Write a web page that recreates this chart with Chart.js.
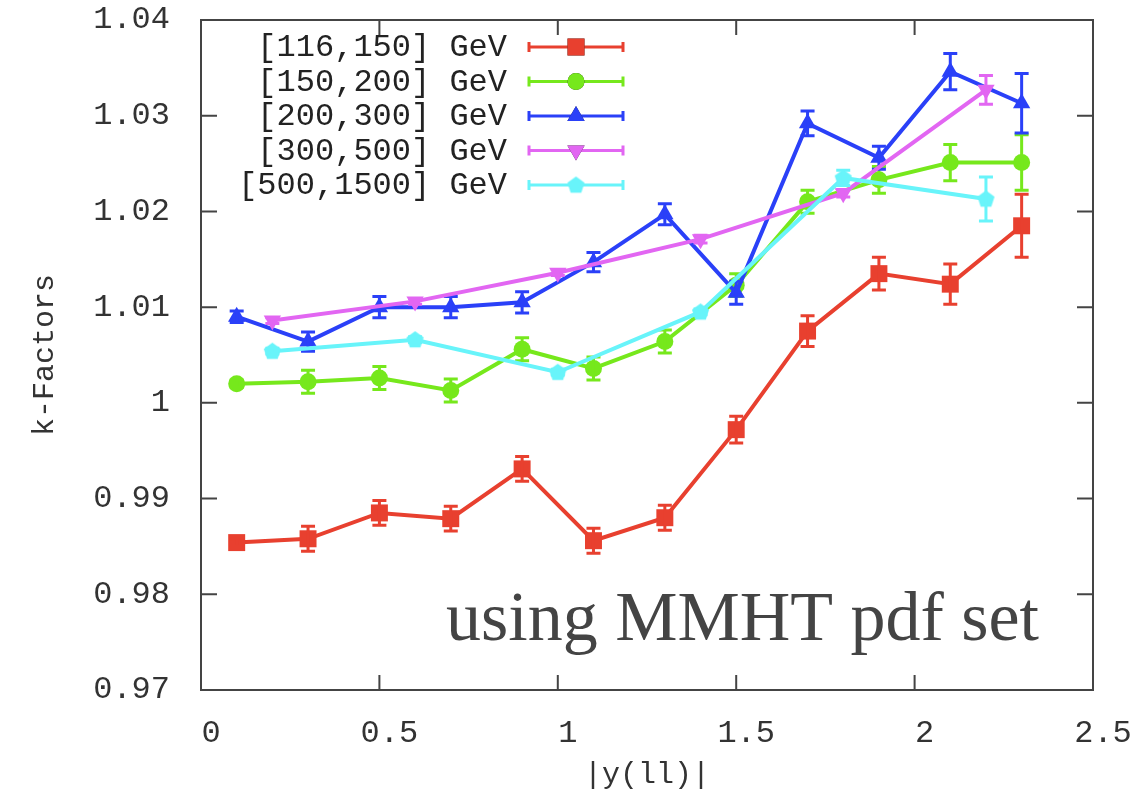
<!DOCTYPE html>
<html>
<head>
<meta charset="utf-8">
<script src="https://cdn.jsdelivr.net/npm/chart.js@4.4.1/dist/chart.umd.min.js"></script>
<style>
  body { margin: 0; background: #fff; }
  #wrap { width: 1133px; height: 799px; position: relative; }
</style>
</head>
<body>
<div id="wrap"><canvas id="myChart"></canvas></div>
<script>
// |y(ll)| bins
var xA = [0.1, 0.3, 0.5, 0.7, 0.9, 1.1, 1.3, 1.5, 1.7, 1.9, 2.1, 2.3];
var xB = [0.2, 0.6, 1.0, 1.4, 1.8, 2.2];

var labels = ["[116,150] GeV", "[150,200] GeV", "[200,300] GeV", "[300,500] GeV", "[500,1500] GeV"];

var red = [0.9854, 0.9858, 0.9885, 0.9879, 0.9931, 0.9856, 0.9880, 0.9972, 1.0075, 1.0135, 1.0124, 1.0185];
var redErr = [0.0004, 0.0013, 0.0013, 0.0013, 0.0013, 0.0013, 0.0013, 0.0014, 0.0016, 0.0017, 0.0021, 0.0033];
var green = [1.0020, 1.0022, 1.0026, 1.0013, 1.0056, 1.0036, 1.0064, 1.0123, 1.0210, 1.0233, 1.0251, 1.0251];
var greenErr = [0.0004, 0.0012, 0.0012, 0.0012, 0.0012, 0.0012, 0.0012, 0.0012, 0.0012, 0.0014, 0.0019, 0.0029];
var blue = [1.0090, 1.0064, 1.0100, 1.0100, 1.0105, 1.0147, 1.0197, 1.0115, 1.0292, 1.0256, 1.0346, 1.0313];
var blueErr = [0.0006, 0.0010, 0.0011, 0.0011, 0.0011, 0.0010, 0.0011, 0.0012, 0.0013, 0.0012, 0.0019, 0.0031];
var pink = [1.0086, 1.0106, 1.0136, 1.0171, 1.0219, 1.0327];
var pinkErr = [0.0003, 0.0003, 0.0003, 0.0004, 0.0004, 0.0015];
var cyan = [1.0054, 1.0066, 1.0032, 1.0095, 1.0235, 1.0213];
var cyanErr = [0.0003, 0.0003, 0.0003, 0.0003, 0.0008, 0.0023];

var colors = ["#e8402f", "#76e81c", "#2a40f8", "#e266f2", "#68f4fa"];

function pts(xs, ys) {
  return xs.map(function (x, i) { return { x: x, y: ys[i] }; });
}

// pentagon marker for the last series
var penta = document.createElement("canvas");
penta.width = 19; penta.height = 19;
(function () {
  var c = penta.getContext("2d");
  c.fillStyle = colors[4];
  c.beginPath();
  for (var k = 0; k < 5; k++) {
    var a = -Math.PI / 2 + k * 2 * Math.PI / 5;
    var px = 9.5 + 9 * Math.cos(a), py = 10 + 9 * Math.sin(a);
    if (k == 0) c.moveTo(px, py); else c.lineTo(px, py);
  }
  c.closePath();
  c.fill();
})();

function mkSet(i, xs, ys, errs, style, radius, rot) {
  return {
    label: labels[i],
    data: pts(xs, ys),
    errors: errs,
    borderColor: colors[i],
    backgroundColor: colors[i],
    borderWidth: 4,
    pointStyle: style,
    pointRadius: radius,
    pointRotation: rot || 0,
    pointBorderWidth: 0,
    pointHoverRadius: radius,
    tension: 0,
    order: 5 - i
  };
}

var errorBars = {
  id: "errorBars",
  afterDatasetDraw: function (chart, args) {
    var ds = chart.data.datasets[args.index];
    var ctx = chart.ctx;
    var xs = chart.scales.x, ys = chart.scales.y;
    ctx.save();
    ctx.strokeStyle = ds.borderColor;
    ctx.lineWidth = 3;
    ds.data.forEach(function (p, i) {
      var e = ds.errors[i];
      var px = xs.getPixelForValue(p.x);
      var y1 = ys.getPixelForValue(p.y + e);
      var y2 = ys.getPixelForValue(p.y - e);
      ctx.beginPath();
      ctx.moveTo(px, y1); ctx.lineTo(px, y2);
      ctx.moveTo(px - 7, y1); ctx.lineTo(px + 7, y1);
      ctx.moveTo(px - 7, y2); ctx.lineTo(px + 7, y2);
      ctx.stroke();
    });
    ctx.restore();
  }
};

var frame = {
  id: "frame",
  beforeDatasetsDraw: function (chart) {
    var ctx = chart.ctx, a = chart.chartArea;
    var xs = chart.scales.x, ys = chart.scales.y;
    ctx.save();
    ctx.strokeStyle = "#444";
    ctx.lineWidth = 2;
    ctx.strokeRect(a.left, a.top, a.right - a.left, a.bottom - a.top);
    ctx.beginPath();
    xs.ticks.forEach(function (t) {
      var px = xs.getPixelForValue(t.value);
      ctx.moveTo(px, a.bottom); ctx.lineTo(px, a.bottom - 15);
      ctx.moveTo(px, a.top); ctx.lineTo(px, a.top + 15);
    });
    ys.ticks.forEach(function (t) {
      var py = ys.getPixelForValue(t.value);
      ctx.moveTo(a.left, py); ctx.lineTo(a.left + 16, py);
      ctx.moveTo(a.right, py); ctx.lineTo(a.right - 16, py);
    });
    ctx.stroke();
    ctx.restore();
  },
  afterDraw: function (chart) {
    var ctx = chart.ctx, a = chart.chartArea;
    ctx.save();
    // legend, top left inside the frame
    ctx.font = "32px 'Liberation Mono'";
    ctx.textAlign = "right";
    ctx.textBaseline = "middle";
    chart.data.datasets.forEach(function (ds, i) {
      var y = a.top + 27 + i * 34.5;
      ctx.fillStyle = "#222";
      ctx.fillText(ds.label, a.left + 306, y + 1);
      var x0 = a.left + 328, x1 = a.left + 422;
      ctx.strokeStyle = ds.borderColor;
      ctx.lineWidth = 3;
      ctx.beginPath();
      ctx.moveTo(x0, y); ctx.lineTo(x1, y);
      ctx.moveTo(x0, y - 5); ctx.lineTo(x0, y + 5);
      ctx.moveTo(x1, y - 5); ctx.lineTo(x1, y + 5);
      ctx.stroke();
      Chart.helpers.drawPoint(ctx, {
        pointStyle: ds.pointStyle, radius: ds.pointRadius, rotation: ds.pointRotation, borderWidth: 0
      }, (x0 + x1) / 2, y);
      ctx.fillStyle = ds.backgroundColor;
      ctx.fill();
    });
    // annotation
    ctx.textAlign = "left";
    ctx.textBaseline = "alphabetic";
    ctx.fillStyle = "#444";
    ctx.font = "70px 'Liberation Serif'";
    ctx.fillText("using MMHT pdf set", 446, 640);
    ctx.restore();
  }
};

var ctx = document.getElementById("myChart").getContext("2d");
var myChart = new Chart(ctx, {
  type: "line",
  data: {
    datasets: [
      mkSet(0, xA, red, redErr, "rect", 12),
      mkSet(1, xA, green, greenErr, "circle", 8.5),
      mkSet(2, xA, blue, blueErr, "triangle", 10),
      mkSet(3, xB, pink, pinkErr, "triangle", 10, 180),
      mkSet(4, xB, cyan, cyanErr, penta, 9)
    ]
  },
  options: {
    responsive: true,
    maintainAspectRatio: false,
    animation: false,
    layout: { padding: { top: 20, right: 40, left: 0, bottom: 0 } },
    plugins: { legend: { display: false }, tooltip: { enabled: false } },
    scales: {
      x: {
        type: "linear",
        min: 0, max: 2.5,
        grid: { display: false },
        border: { display: false },
        afterFit: function (s) {
          s.height = 109;
          s.paddingLeft = 0; s.paddingRight = 0;
        },
        ticks: {
          stepSize: 0.5,
          labelOffset: 10,
          padding: 16,
          color: "#333",
          font: { family: "Liberation Mono", size: 32 },
          maxRotation: 0,
          callback: function (v) { return String(Number(v.toFixed(2))); }
        },
        title: {
          display: true, text: "|y(ll)|", color: "#333",
          font: { family: "Liberation Mono", size: 30 },
          padding: { top: 0, bottom: 6 }
        }
      },
      y: {
        min: 0.97, max: 1.04,
        grid: { display: false },
        border: { display: false },
        afterFit: function (s) {
          s.width = 201;
          s.paddingTop = 0; s.paddingBottom = 0;
        },
        ticks: {
          stepSize: 0.01,
          padding: 23,
          color: "#333",
          font: { family: "Liberation Mono", size: 32 },
          callback: function (v) { return String(Number(v.toFixed(2))); }
        },
        title: {
          display: true, text: "k-Factors", color: "#333",
          font: { family: "Liberation Mono", size: 30 },
          padding: { top: 27, bottom: 0 }
        }
      }
    }
  },
  plugins: [errorBars, frame]
});
</script>
</body>
</html>
